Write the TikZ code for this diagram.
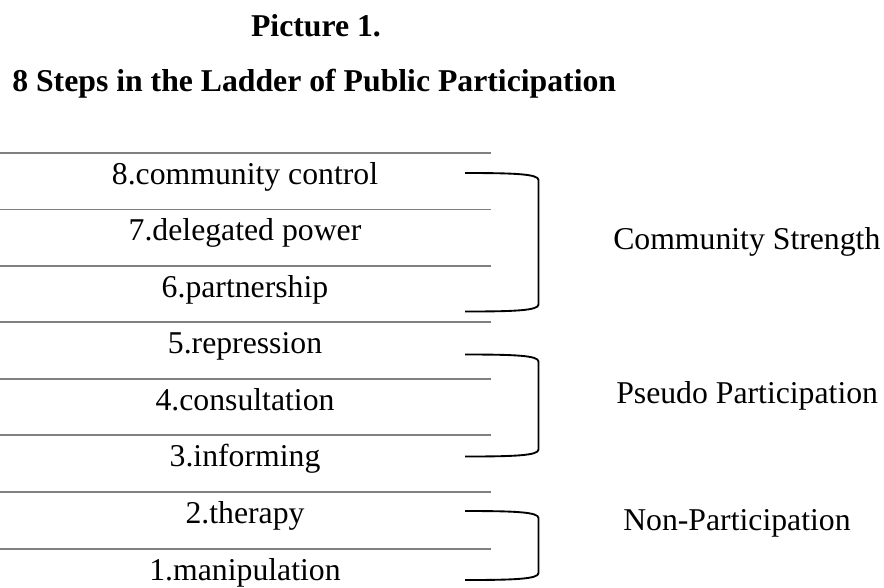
\documentclass[tikz,border=0pt]{standalone}
\usepackage{fontspec}
\setmainfont{Liberation Serif}
\usetikzlibrary{calc}
\begin{document}
\begin{tikzpicture}[x=0.75pt,y=-0.75pt,
  rung/.style={draw=black!50,line width=1.1pt},
  stepname/.style={anchor=base,inner sep=0pt,font=\fontsize{23.8}{28}\selectfont},
  groupname/.style={anchor=base west,inner sep=0pt,font=\fontsize{23.8}{28}\selectfont},
  titletext/.style={inner sep=0pt,font=\fontsize{23.8}{28}\selectfont\bfseries},
  bracket/.style={draw=black,line width=1.4pt}]
\useasboundingbox (0,0) rectangle (884,587);

% titles
\node[titletext,anchor=base] (t1) at (316,36) {Picture 1.};
\node[titletext,anchor=base west] (t2) at (12,91.5) {8 Steps in the Ladder of Public Participation};

% rungs of the ladder
\foreach \y in {153,209.5,266,322,379,435,492,549}
  \draw[rung] (0,\y) -- (491,\y);

% step names
\node[stepname] (s8) at (245,184) {8.community control};
\node[stepname] (s7) at (245,240.5) {7.delegated power};
\node[stepname] (s6) at (245,297) {6.partnership};
\node[stepname] (s5) at (245,353) {5.repression};
\node[stepname] (s4) at (245,410) {4.consultation};
\node[stepname] (s3) at (245,466) {3.informing};
\node[stepname] (s2) at (245,523) {2.therapy};
\node[stepname] (s1) at (245,580) {1.manipulation};

% bracket end points
\coordinate (a1) at (465,173);   \coordinate (b1) at (465,311.5);
\coordinate (a2) at (465,354.5); \coordinate (b2) at (465,456.5);
\coordinate (a3) at (465,511);   \coordinate (b3) at (465,580);

% brackets: a flat top and bottom arm with rounded corners into the upright
\foreach \a/\b in {a1/b1,a2/b2,a3/b3}
  \draw[bracket] (\a) .. controls ($(\a)+(50,0)$) and ($(\a)+(73.5,1)$) .. ($(\a)+(73.5,7)$)
    -- ($(\b)+(73.5,-7)$) .. controls ($(\b)+(73.5,-1)$) and ($(\b)+(50,0)$) .. (\b);

% group names
\node[groupname] (g1) at (613,249) {Community Strength};
\node[groupname] (g2) at (616,403) {Pseudo Participation};
\node[groupname] (g3) at (623,530) {Non-Participation};
\end{tikzpicture}
\end{document}
